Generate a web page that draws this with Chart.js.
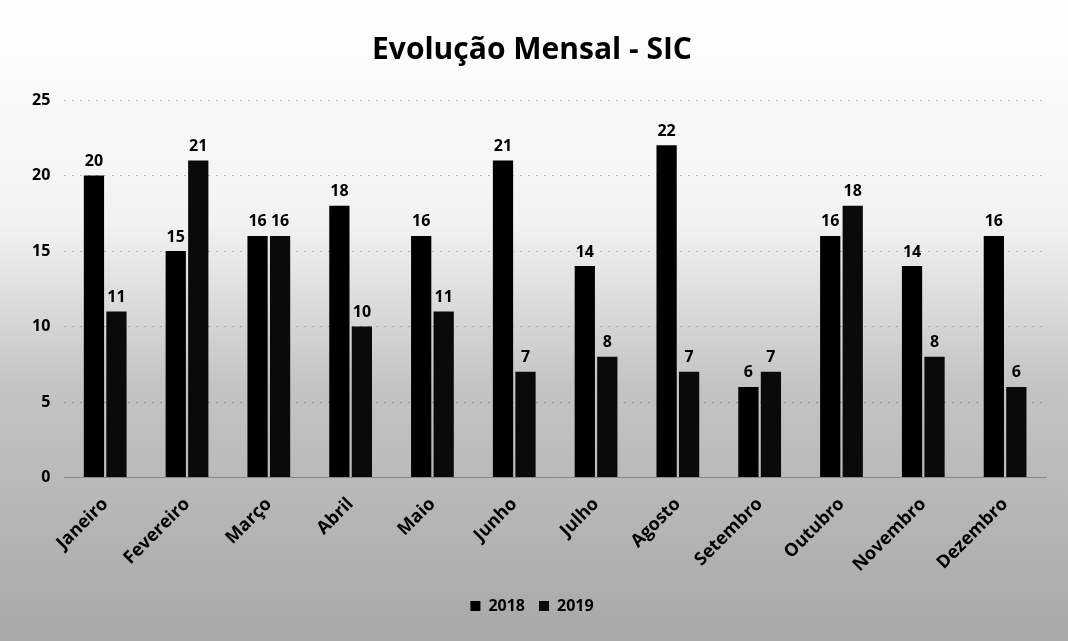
<!DOCTYPE html>
<html>
<head>
<meta charset="utf-8">
<script src="https://cdn.jsdelivr.net/npm/chart.js@4.4.0/dist/chart.umd.min.js"></script>
<style>
  html, body { margin: 0; padding: 0; background: #fff; }
  #wrap { width: 1068px; height: 641px; }
</style>
</head>
<body>
<div id="wrap"><canvas id="chart"></canvas></div>
<script>
// months
var meses = ["Janeiro", "Fevereiro", "Março", "Abril", "Maio", "Junho",
             "Julho", "Agosto", "Setembro", "Outubro", "Novembro", "Dezembro"];
var valores2018 = [20, 15, 16, 18, 16, 21, 14, 22, 6, 16, 14, 16];
var valores2019 = [11, 21, 16, 10, 11, 7, 8, 7, 7, 18, 8, 6];
var yTicks = [0, 5, 10, 15, 20, 25];

// grey scanned-paper look behind everything
var fundo = {
    id: "fundo",
    beforeDraw: function(chart) {
        var ctx = chart.ctx;
        var g = ctx.createLinearGradient(0, 0, 0, chart.height);
        g.addColorStop(0, "#ffffff");
        g.addColorStop(0.35, "#f2f2f2");
        g.addColorStop(0.6, "#c4c4c4");
        g.addColorStop(1, "#a8a8a8");
        ctx.save();
        ctx.fillStyle = g;
        ctx.fillRect(0, 0, chart.width, chart.height);
        ctx.restore();
    }
};

// value labels on top of the bars
var rotulos = {
    id: "rotulos",
    afterDatasetsDraw: function(chart) {
        var ctx = chart.ctx;
        ctx.save();
        ctx.font = "bold 16px 'Open Sans'";
        ctx.fillStyle = "#000";
        ctx.textAlign = "center";
        ctx.textBaseline = "bottom";
        chart.data.datasets.forEach(function(ds, i) {
            chart.getDatasetMeta(i).data.forEach(function(bar, j) {
                ctx.fillText(ds.data[j], bar.x, bar.y - 6);
            });
        });
        ctx.restore();
    }
};

new Chart(document.getElementById("chart"), {
    type: "bar",
    data: {
        labels: meses,
        datasets: [
            { label: "2018", data: valores2018, backgroundColor: "#000" },
            { label: "2019", data: valores2019, backgroundColor: "#0a0a0a" }
        ]
    },
    options: {
        responsive: true,
        maintainAspectRatio: false,
        animation: false,
        layout: { padding: { left: 18, right: 22, top: 14, bottom: 17 } },
        datasets: { bar: { categoryPercentage: 0.55, barPercentage: 0.9 } },
        plugins: {
            title: {
                display: true,
                text: "Evolução Mensal - SIC",
                color: "#000",
                font: { family: "'Open Sans'", size: 30, weight: "bold" },
                padding: { top: 18, bottom: 32 }
            },
            legend: {
                position: "bottom",
                labels: {
                    color: "#000",
                    boxWidth: 10,
                    boxHeight: 10,
                    padding: 14,
                    font: { family: "'Open Sans'", size: 16, weight: "bold" }
                }
            },
            tooltip: { enabled: false }
        },
        scales: {
            x: {
                grid: { display: false },
                border: { color: "#888" },
                ticks: {
                    color: "#000",
                    minRotation: 45,
                    maxRotation: 45,
                    padding: 8,
                    font: { family: "'Open Sans'", size: 18, weight: "bold" }
                }
            },
            y: {
                min: 0,
                max: 25,
                afterBuildTicks: function(axis) {
                    axis.ticks = yTicks.map(function(v) { return { value: v }; });
                },
                grid: { color: "rgba(0,0,0,0.25)", drawTicks: false },
                border: { display: false, dash: [2, 6] },
                ticks: {
                    color: "#000",
                    padding: 14,
                    font: { family: "'Open Sans'", size: 16, weight: "bold" }
                }
            }
        }
    },
    plugins: [fundo, rotulos]
});
</script>
</body>
</html>
